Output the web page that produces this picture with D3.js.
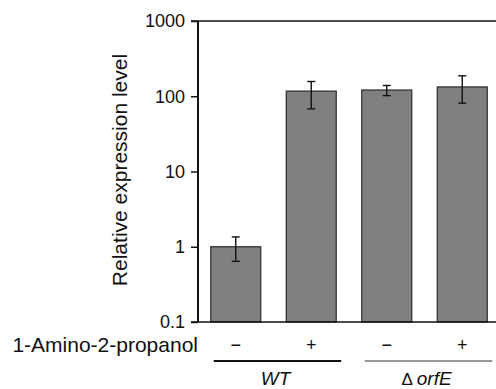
<!DOCTYPE html>
<html><head><meta charset="utf-8">
<script src="https://cdn.jsdelivr.net/npm/d3@7"></script>
<style>body{margin:0;background:#fff}svg{display:block}text{font-family:"Liberation Sans",Arial,Helvetica,sans-serif;fill:#111}</style>
</head><body><svg id="c" width="496" height="389"></svg>
<script>
const categories = ["WT −", "WT +", "ΔorfE −", "ΔorfE +"];
const treatment = ["−", "+", "−", "+"];
const values = [1, 117, 121, 133];
const errLow = [0.64, 68, 102, 81];
const errHigh = [1.35, 157, 139, 187];
const yTicks = [0.1, 1, 10, 100, 1000];
const tickLabels = ["0.1", "1", "10", "100", "1000"];
const groups = [{name: "WT", cats: ["WT −", "WT +"]}, {name: "ΔorfE", cats: ["ΔorfE −", "ΔorfE +"]}];

const svg = d3.select("#c");
const y = d3.scaleLog().domain([0.1, 1000]).range([322, 21]);
const x = d3.scaleBand().domain(categories).range([198, 500]).paddingInner(0.338).paddingOuter(0.169);

// y axis ticks
const ax = svg.append("g").attr("transform", "translate(198,0)")
  .call(d3.axisLeft(y).tickValues(yTicks).tickFormat((d, i) => tickLabels[i]).tickSize(7).tickPadding(6).tickSizeOuter(0));
ax.select(".domain").remove();
ax.selectAll(".tick line").attr("stroke", "#111").attr("stroke-width", 1.5);
ax.selectAll(".tick text").style("font-size", "18px").attr("fill", "#111");

// bars
svg.append("g").selectAll("rect").data(categories).join("rect")
  .attr("x", d => x(d)).attr("width", x.bandwidth())
  .attr("y", (d, i) => y(values[i])).attr("height", (d, i) => y(0.1) - y(values[i]))
  .attr("fill", "#808080").attr("stroke", "#2a2a2a").attr("stroke-width", 1.2);

// error bars
const eb = svg.append("g").attr("stroke", "#111").attr("stroke-width", 1.4);
categories.forEach((c, i) => {
  const cx = x(c) + x.bandwidth() / 2;
  eb.append("line").attr("x1", cx).attr("x2", cx).attr("y1", y(errHigh[i])).attr("y2", y(errLow[i]));
  eb.append("line").attr("x1", cx - 4).attr("x2", cx + 4).attr("y1", y(errHigh[i])).attr("y2", y(errHigh[i]));
  eb.append("line").attr("x1", cx - 4).attr("x2", cx + 4).attr("y1", y(errLow[i])).attr("y2", y(errLow[i]));
});

// frame lines
svg.append("line").attr("x1", 198).attr("x2", 198).attr("y1", y(1000)).attr("y2", y(0.1)).attr("stroke", "#111").attr("stroke-width", 2);
svg.append("line").attr("x1", 191).attr("x2", 496).attr("y1", y(1000)).attr("y2", y(1000)).attr("stroke", "#111").attr("stroke-width", 1.5);
svg.append("line").attr("x1", 191).attr("x2", 496).attr("y1", y(0.1)).attr("y2", y(0.1)).attr("stroke", "#111").attr("stroke-width", 1.5);

// y label
svg.append("text").attr("transform", "translate(127,170) rotate(-90)").attr("text-anchor", "middle")
  .style("font-size", "21px").text("Relative expression level");

// treatment row
svg.append("text").attr("x", 198).attr("y", 352).attr("text-anchor", "end").style("font-size", "21px").text("1-Amino-2-propanol");
svg.append("g").selectAll("text").data(categories).join("text")
  .attr("x", d => x(d) + x.bandwidth() / 2).attr("y", 351).attr("text-anchor", "middle")
  .style("font-size", "18px").text((d, i) => treatment[i]);

// group lines and labels
groups.forEach((g, gi) => {
  const x0 = x(g.cats[0]) + 3, x1 = x(g.cats[1]) + x.bandwidth() + 5;
  svg.append("line").attr("x1", x0).attr("x2", x1).attr("y1", 361).attr("y2", 361)
    .attr("stroke", gi === 0 ? "#111" : "#333").attr("stroke-width", gi === 0 ? 2.2 : 1.2);
  const t = svg.append("text").attr("x", (x0 + x1) / 2 - 2).attr("y", 385).attr("text-anchor", "middle").style("font-size", "19px");
  if (g.name === "WT") {
    t.append("tspan").style("font-style", "italic").text("WT");
  } else {
    t.append("tspan").style("font-size", "17px").text("Δ");
    t.append("tspan").attr("dx", 4).style("font-style", "italic").text("orfE");
  }
});
</script></body></html>
